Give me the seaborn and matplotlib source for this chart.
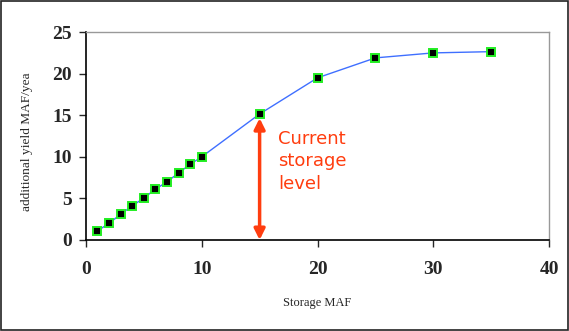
import seaborn as sns
import matplotlib.pyplot as plt
import pandas as pd
from matplotlib.patches import Rectangle

storage = [1, 2, 3, 4, 5, 6, 7, 8, 9, 10, 15, 20, 25, 30, 35]
added_yield = [1.1, 2.0, 3.1, 4.1, 5.05, 6.1, 7.0, 8.05, 9.1, 10.0, 15.15, 19.5, 21.9, 22.5, 22.65]
x_ticks = [0, 10, 20, 30, 40]
y_ticks = [0, 5, 10, 15, 20, 25]
current_storage = 15

df = pd.DataFrame({"storage": storage, "yield": added_yield})

sns.set_style("white")
fig = plt.figure(figsize=(5.69, 3.31), dpi=100)
ax = fig.add_axes([0.151, 0.275, 0.814, 0.628])

sns.lineplot(data=df, x="storage", y="yield", ax=ax, color="#3f6fff", linewidth=1,
             marker="s", markersize=6, markerfacecolor="black",
             markeredgecolor="#22ee22", markeredgewidth=1.4)

ax.set_xlim(0, 40)
ax.set_ylim(0, 25)
ax.set_xticks(x_ticks)
ax.set_yticks(y_ticks)
for lab in ax.get_xticklabels() + ax.get_yticklabels():
    lab.set_family("Liberation Serif")
    lab.set_fontweight("bold")
    lab.set_fontsize(14)
ax.tick_params(axis="x", direction="out", length=5, width=1, pad=10, bottom=True)
ax.tick_params(axis="y", direction="out", length=5, width=1, pad=5, left=True)

for side in ["top", "right"]:
    ax.spines[side].set_color("#999999")
    ax.spines[side].set_linewidth(1)
for side in ["left", "bottom"]:
    ax.spines[side].set_color("black")
    ax.spines[side].set_linewidth(1.2)

ax.set_xlabel("Storage MAF", family="Liberation Serif", fontsize=9, labelpad=14)
ax.set_ylabel("additional yield MAF/yea", family="Liberation Serif", fontsize=9.6)
ax.yaxis.set_label_coords(-0.114, 0.475)

# double-headed arrow for current storage
ax.annotate("", xy=(current_storage, 0), xytext=(current_storage, added_yield[10] - 0.5),
            arrowprops=dict(arrowstyle="<|-|>", color="#ff3d0f", lw=2.5,
                            mutation_scale=16, shrinkA=0, shrinkB=0))
ax.text(16.6, 13.2, "Current\nstorage\nlevel", color="#ff3d0f", fontsize=13,
        family="DejaVu Sans", linespacing=1.3, va="top", ha="left")

# outer frame
fig.patches.append(Rectangle((0.002, 0.003), 0.996, 0.994, transform=fig.transFigure,
                             fill=False, edgecolor="#222222", linewidth=1.2))

fig.savefig("out.png", dpi=100)
